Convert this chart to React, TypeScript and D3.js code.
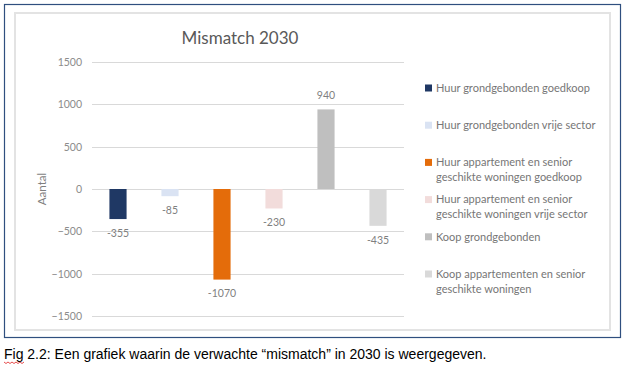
import React, { useRef, useEffect } from "react";
import * as d3 from "d3";

const categories = [
  "Huur grondgebonden goedkoop",
  "Huur grondgebonden vrije sector",
  "Huur appartement en senior geschikte woningen goedkoop",
  "Huur appartement en senior geschikte woningen vrije sector",
  "Koop grondgebonden",
  "Koop appartementen en senior geschikte woningen",
];
const legendLines = [
  ["Huur grondgebonden goedkoop"],
  ["Huur grondgebonden vrije sector"],
  ["Huur appartement en senior", "geschikte woningen goedkoop"],
  ["Huur appartement en senior", "geschikte woningen vrije sector"],
  ["Koop grondgebonden"],
  ["Koop appartementen en senior", "geschikte woningen"],
];
const values = [-355, -85, -1070, -230, 940, -435];
const colors = ["#1f3864", "#dae3f3", "#e46c0a", "#f2dcdb", "#bfbfbf", "#d9d9d9"];
const yTicks = [-1500, -1000, -500, 0, 500, 1000, 1500];

const W = 625;
const H = 366;
const plot = { left: 92, right: 404, top: 62, bottom: 316 };
const font = "Lato, 'Open Sans', sans-serif";

const App: React.FC = () => {
  const svgRef = useRef<SVGSVGElement | null>(null);

  useEffect(() => {
    if (!svgRef.current) return;
    const svg = d3.select(svgRef.current);
    svg.selectAll("*").remove();

    // outer frame + chart area
    svg.append("rect")
      .attr("x", 4.5).attr("y", 4.5).attr("width", 616).attr("height", 333)
      .attr("fill", "#fff").attr("stroke", "#2f4f7f").attr("stroke-width", 1.2);
    svg.append("rect")
      .attr("x", 15).attr("y", 13).attr("width", 595).attr("height", 317)
      .attr("fill", "#fff").attr("stroke", "#e3e3e3").attr("stroke-width", 2);

    const x = d3.scaleBand<string>()
      .domain(categories)
      .range([plot.left, plot.right])
      .paddingInner(0.67)
      .paddingOuter(0.335);

    const y = d3.scaleLinear().domain([-1500, 1500]).range([plot.bottom, plot.top]);

    // gridlines
    svg.append("g")
      .selectAll("line")
      .data(yTicks)
      .join("line")
      .attr("x1", plot.left).attr("x2", plot.right)
      .attr("y1", (d) => Math.round(y(d)) + 0.5).attr("y2", (d) => Math.round(y(d)) + 0.5)
      .attr("stroke", "#d9d9d9").attr("stroke-width", 1);

    // y axis labels
    const yAxis = svg.append("g")
      .attr("transform", `translate(${plot.left - 10},0)`)
      .call(d3.axisLeft(y).tickValues(yTicks).tickFormat(d3.format("d")).tickSize(0).tickPadding(0));
    yAxis.select(".domain").remove();
    yAxis.selectAll("text")
      .attr("font-family", font).attr("font-size", 10.5).attr("fill", "#8c8c8c");

    svg.append("text")
      .attr("transform", `translate(46,${(plot.top + plot.bottom) / 2}) rotate(-90)`)
      .attr("text-anchor", "middle")
      .attr("font-family", font).attr("font-size", 11.5).attr("fill", "#7f7f7f")
      .text("Aantal");

    // bars
    svg.append("g")
      .selectAll("rect")
      .data(values)
      .join("rect")
      .attr("x", (_, i) => x(categories[i]) as number)
      .attr("width", x.bandwidth())
      .attr("y", (d) => y(Math.max(0, d)))
      .attr("height", (d) => Math.abs(y(d) - y(0)))
      .attr("fill", (_, i) => colors[i]);

    // value labels
    svg.append("g")
      .selectAll("text")
      .data(values)
      .join("text")
      .attr("x", (_, i) => (x(categories[i]) as number) + x.bandwidth() / 2)
      .attr("y", (d) => y(d) + (d < 0 ? 14 : -14))
      .attr("dy", "0.35em")
      .attr("text-anchor", "middle")
      .attr("font-family", font).attr("font-size", 10.5).attr("fill", "#7f7f7f")
      .text((d) => d);

    // title
    svg.append("text")
      .attr("x", 240).attr("y", 44)
      .attr("text-anchor", "middle")
      .attr("font-family", font).attr("font-size", 17).attr("fill", "#595959")
      .text("Mismatch 2030");

    // legend
    const ly = d3.scalePoint<number>().domain(d3.range(categories.length)).range([88, 274]);
    const leg = svg.append("g")
      .selectAll("g")
      .data(legendLines)
      .join("g")
      .attr("transform", (_, i) => `translate(425,${ly(i)})`);
    leg.append("rect")
      .attr("x", 0).attr("y", -3.5).attr("width", 7).attr("height", 7)
      .attr("fill", (_, i) => colors[i]);
    leg.each(function (lines) {
      const t = d3.select(this).append("text")
        .attr("font-family", font).attr("font-size", 11).attr("fill", "#767676");
      lines.forEach((l, j) => {
        t.append("tspan").attr("x", 11).attr("y", j * 15).attr("dy", "0.35em").text(l);
      });
    });

    // caption
    svg.append("text")
      .attr("x", 4).attr("y", 359)
      .attr("font-family", "'Liberation Sans', Arial, sans-serif")
      .attr("font-size", 14).attr("fill", "#000")
      .text("Fig 2.2: Een grafiek waarin de verwachte \u201cmismatch\u201d in 2030 is weergegeven.");

    // spell-check squiggle under "Fig"
    const pts: [number, number][] = d3.range(0, 11).map((i) => [4 + i * 2, 362 + (i % 2) * 1.5]);
    svg.append("path")
      .attr("d", d3.line()(pts))
      .attr("fill", "none").attr("stroke", "#e02020").attr("stroke-width", 0.8);
  }, []);

  return (
    <div style={{ position: "absolute", left: 0, top: 0 }}>
      <svg ref={svgRef} width={W} height={H} style={{ display: "block", background: "#fff" }} />
    </div>
  );
};

export default App;
